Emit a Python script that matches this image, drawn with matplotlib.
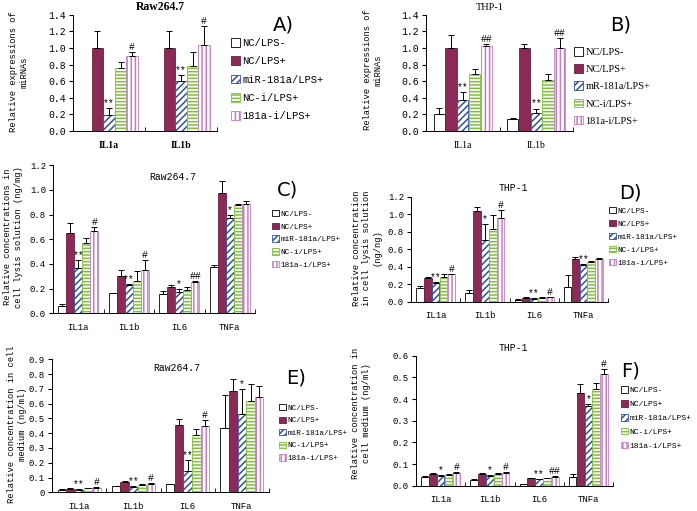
import numpy as np
import matplotlib
matplotlib.use("Agg")
import matplotlib.pyplot as plt
from matplotlib.patches import Patch

plt.rcParams["hatch.linewidth"] = 1.1
MONO = "Liberation Mono"
SERIF = "Liberation Serif"

# ---- data ----
series = ["NC/LPS-", "NC/LPS+", "miR-181a/LPS+", "NC-i/LPS+", "181a-i/LPS+"]
series_B = ["NC/LPS-", "NC/LPS+", "mR-181a/LPS+", "NC-i/LPS+", "181a-i/LPS+"]
genes2 = ["IL1a", "IL1b"]
genes4 = ["IL1a", "IL1b", "IL6", "TNFa"]

# A) Raw264.7 miRNA expression
A_vals = [[0.005, 1.00, 0.19, 0.76, 0.90], [0.005, 1.00, 0.60, 0.78, 1.04]]
A_errs = [[0.0, 0.20, 0.09, 0.07, 0.05], [0.0, 0.20, 0.07, 0.17, 0.22]]
A_marks = [["", "", "**", "", "#"], ["", "", "**", "", "#"]]

# B) THP-1 miRNA expression
B_vals = [[0.20, 1.00, 0.37, 0.69, 1.02], [0.15, 1.00, 0.22, 0.61, 1.00]]
B_errs = [[0.08, 0.15, 0.10, 0.06, 0.03], [0.01, 0.05, 0.05, 0.08, 0.12]]
B_marks = [["", "", "**", "", "##"], ["", "", "**", "", "##"]]

# C) Raw264.7 cell lysis
C_vals = [[0.06, 0.65, 0.365, 0.57, 0.665], [0.162, 0.305, 0.23, 0.265, 0.35],
          [0.157, 0.216, 0.175, 0.19, 0.25], [0.373, 0.975, 0.776, 0.882, 0.89]]
C_errs = [[0.015, 0.085, 0.07, 0.04, 0.035], [0.0, 0.05, 0.01, 0.075, 0.08],
          [0.02, 0.015, 0.02, 0.02, 0.015], [0.02, 0.10, 0.02, 0.005, 0.02]]
C_marks = [["", "", "**", "", "#"], ["", "", "**", "", "#"],
           ["", "", "*", "", "##"], ["", "", "*", "", ""]]

# D) THP-1 cell lysis
D_vals = [[0.16, 0.267, 0.21, 0.286, 0.32], [0.10, 1.036, 0.71, 0.83, 0.96],
          [0.025, 0.045, 0.035, 0.045, 0.05], [0.165, 0.49, 0.42, 0.455, 0.485]]
D_errs = [[0.02, 0.02, 0.01, 0.03, 0.0], [0.035, 0.05, 0.18, 0.16, 0.09],
          [0.003, 0.003, 0.003, 0.003, 0.005], [0.135, 0.02, 0.01, 0.01, 0.02]]
D_marks = [["", "", "**", "", "#"], ["", "", "*", "", "#"],
           ["", "", "**", "", "#"], ["", "", "**", "", ""]]

# E) Raw264.7 cell medium
E_vals = [[0.016, 0.025, 0.018, 0.027, 0.032], [0.043, 0.068, 0.038, 0.052, 0.056],
          [0.056, 0.453, 0.147, 0.386, 0.45], [0.437, 0.684, 0.53, 0.62, 0.647]]
E_errs = [[0.003, 0.003, 0.003, 0.003, 0.003], [0.003, 0.008, 0.003, 0.003, 0.005],
          [0.003, 0.04, 0.07, 0.045, 0.04], [0.22, 0.08, 0.17, 0.11, 0.07]]
E_marks = [["", "", "**", "", "#"], ["", "", "**", "", "#"],
           ["", "", "**", "", "#"], ["", "", "*", "", ""]]

# F) THP-1 cell medium
F_vals = [[0.04, 0.055, 0.046, 0.05, 0.06], [0.026, 0.054, 0.046, 0.054, 0.06],
          [0.008, 0.034, 0.029, 0.034, 0.042], [0.038, 0.426, 0.368, 0.445, 0.514]]
F_errs = [[0.004, 0.004, 0.003, 0.004, 0.003], [0.004, 0.004, 0.003, 0.003, 0.005],
          [0.002, 0.003, 0.002, 0.002, 0.004], [0.015, 0.045, 0.01, 0.03, 0.025]]
F_marks = [["", "", "*", "", "#"], ["", "", "*", "", "#"],
           ["", "", "**", "", "##"], ["", "", "*", "", "#"]]

# ---- styles ----
face = ["white", "#8C2A57", "white", "white", "white"]
edge = ["black", "#6A1E40", "#2F4FA0", "#7FBF3A", "#C27FBF"]
hatch = [None, None, "/////", "-----", "||||"]
W = 0.16


def panel(rect, genes, vals, errs, marks, ymax, ystep, title, tpos, letter,
          lpos, ylab, ypos, labels, fs=6.5, tfont=MONO, tbold=False, tfs=7,
          lfont=MONO, lfs=6.5, lspace=0.7, zero_int=False):
    ax = fig.add_axes(rect)
    vals = np.array(vals)
    errs = np.array(errs)
    x = np.arange(len(genes))
    for i in range(5):
        xs = x + (i - 2) * W
        ax.bar(xs, vals[:, i], W * 0.97, color=face[i], edgecolor=edge[i],
               hatch=hatch[i], linewidth=0.6, zorder=2)
        ax.errorbar(xs, vals[:, i], yerr=[np.zeros(len(genes)), errs[:, i]],
                    fmt="none", ecolor="black", elinewidth=0.7, capsize=2,
                    capthick=0.7, zorder=3)
        for g in range(len(genes)):
            if marks[g][i]:
                ax.annotate(marks[g][i], (xs[g], vals[g, i] + errs[g, i]),
                            xytext=(0, 0), textcoords="offset points",
                            ha="center", va="bottom", fontsize=7,
                            family=MONO)
    ax.set_xlim(-0.5, len(genes) - 0.5)
    ax.set_ylim(0, ymax)
    ticks = np.arange(0, ymax + 1e-9, ystep)
    ax.set_yticks(ticks)
    tl = ["%.1f" % t for t in ticks]
    if zero_int:
        tl[0] = "0"
    ax.set_yticklabels(tl, family=MONO, fontsize=fs)
    ax.set_xticks(x)
    ax.set_xticklabels(genes, family=tfont, fontsize=fs,
                       fontweight="bold" if tbold else "normal")
    ax.set_xticks(np.arange(len(genes) + 1) - 0.5, minor=True)
    ax.tick_params(axis="x", which="major", length=0, pad=7)
    ax.tick_params(axis="x", which="minor", length=3, direction="in")
    ax.tick_params(axis="y", length=3, direction="out", pad=2)
    for s in ["top", "right"]:
        ax.spines[s].set_visible(False)
    for s in ["left", "bottom"]:
        ax.spines[s].set_linewidth(0.7)
    fig.text(tpos[0] / 697, 1 - tpos[1] / 511, title, ha="center", va="center",
             family=tfont, fontsize=tfs, fontweight="bold" if tbold else "normal")
    fig.text(letter[1] / 697, 1 - letter[2] / 511, letter[0], ha="center",
             va="center", fontsize=14, family="DejaVu Sans")
    fig.text(ypos[0] / 697, 1 - ypos[1] / 511, ylab, ha="center", va="center",
             rotation=90, family=MONO, fontsize=6.3, linespacing=1.2)
    handles = [Patch(facecolor=face[i], edgecolor=edge[i] if i else "black",
                     hatch=hatch[i], linewidth=0.6) for i in range(5)]
    fig.legend(handles, labels, loc="upper left",
               bbox_to_anchor=(lpos[0] / 697, 1 - lpos[1] / 511),
               frameon=False, prop={"family": lfont, "size": lfs},
               handlelength=0.9, handleheight=0.9, handletextpad=0.2,
               labelspacing=lspace, borderpad=0, borderaxespad=0)
    return ax


fig = plt.figure(figsize=(6.97, 5.11), dpi=100)

panel([73 / 697, 1 - 131 / 511, 144 / 697, 116.3 / 511], genes2, A_vals, A_errs,
      A_marks, 1.4, 0.2, "Raw264.7", (160, 7), ("A)", 283, 25), (231, 38),
      "Relative expressions of\nmiRNAs", (19, 72), series, fs=7,
      tfont=SERIF, tbold=True, tfs=8.5, lfs=7.5, lspace=0.8)

panel([426 / 697, 1 - 131 / 511, 147 / 697, 116.3 / 511], genes2, B_vals, B_errs,
      B_marks, 1.4, 0.2, "THP-1", (490, 7), ("B)", 621, 25), (574, 47),
      "Relative expressions of\nmiRNAs", (373, 70), series_B, fs=7,
      tfont=SERIF, tfs=7.5, lfont=SERIF, lfs=7.5, lspace=0.7)

panel([53 / 697, 1 - 313.3 / 511, 202 / 697, 148 / 511], genes4, C_vals, C_errs,
      C_marks, 1.2, 0.2, "Raw264.7", (173, 177), ("C)", 288, 190), (272, 210),
      "Relative concentrations in\ncell lysis solution (ng/mg)", (13, 237),
      series, fs=6.5, lfs=5.6, lspace=0.62)

panel([411 / 697, 1 - 301.7 / 511, 197 / 697, 105 / 511], genes4, D_vals, D_errs,
      D_marks, 1.2, 0.2, "THP-1", (513, 188), ("D)", 630, 193), (609, 207),
      "Relative concentration\nin cell lysis solution\n(ng/ng)", (367, 248),
      series, fs=6.5, lfs=5.5, lspace=0.68)

panel([52 / 697, 1 - 492.3 / 511, 217 / 697, 133 / 511], genes4, E_vals, E_errs,
      E_marks, 0.9, 0.1, "Raw264.7", (177, 368), ("E)", 296, 378), (279, 404),
      "Relative concentration in cell\nmedium (ng/ml)", (17, 424),
      series, fs=6.5, lfs=5.5, lspace=0.62, zero_int=True)

panel([416 / 697, 1 - 485.7 / 511, 197 / 697, 130 / 511], genes4, F_vals, F_errs,
      F_marks, 0.6, 0.1, "THP-1", (513, 348), ("F)", 631, 371), (621, 386),
      "Relative concentration in\ncell medium (ng/ml)", (361, 413),
      series, fs=6.5, lfs=5.8, lspace=0.72)

fig.savefig("out.png", dpi=100)
